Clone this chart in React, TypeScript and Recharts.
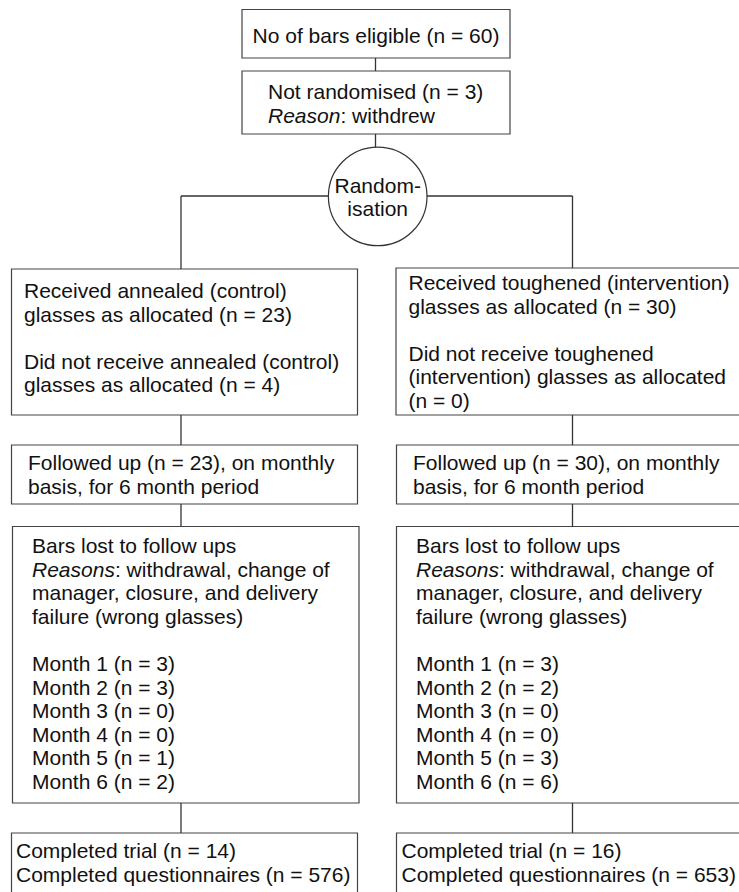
import { ScatterChart, XAxis, YAxis, ReferenceArea, ReferenceLine, ReferenceDot } from 'recharts';

// trial counts
const eligibleBars = 60;
const notRandomisedBars = 3;
const groups = ['annealed (control)', 'toughened (intervention)'];
const receivedAsAllocated = [23, 30];
const notReceivedAsAllocated = [4, 0];
const followedUp = [23, 30];
const monthLabels = ['Month 1', 'Month 2', 'Month 3', 'Month 4', 'Month 5', 'Month 6'];
const lostControl = [3, 3, 0, 0, 1, 2];
const lostIntervention = [3, 2, 0, 0, 3, 6];
const completedTrial = [14, 16];
const completedQuestionnaires = [576, 653];

const W = 739;
const H = 892;
const FONT = '"Liberation Sans", Arial, Helvetica, sans-serif';
const LINE_H = 23.6;
const BOX_STROKE = '#444';
const LINK_STROKE = '#333';

const lostLines = (counts: number[]) => [
  'Bars lost to follow ups',
  '*Reasons*: withdrawal, change of',
  'manager, closure, and delivery',
  'failure (wrong glasses)',
  '',
  ...monthLabels.map((m, i) => `${m} (n = ${counts[i]})`),
];

// box text, in reading order
const texts = {
  eligible: [`No of bars eligible (n = ${eligibleBars})`],
  notRand: [`Not randomised (n = ${notRandomisedBars})`, '*Reason*: withdrew'],
  allocL: [
    `Received ${groups[0]}`,
    `glasses as allocated (n = ${receivedAsAllocated[0]})`,
    '',
    `Did not receive ${groups[0]}`,
    `glasses as allocated (n = ${notReceivedAsAllocated[0]})`,
  ],
  allocR: [
    `Received ${groups[1]}`,
    `glasses as allocated (n = ${receivedAsAllocated[1]})`,
    '',
    'Did not receive toughened',
    '(intervention) glasses as allocated',
    `(n = ${notReceivedAsAllocated[1]})`,
  ],
  followL: [`Followed up (n = ${followedUp[0]}), on monthly`, 'basis, for 6 month period'],
  followR: [`Followed up (n = ${followedUp[1]}), on monthly`, 'basis, for 6 month period'],
  lostL: lostLines(lostControl),
  lostR: lostLines(lostIntervention),
  doneL: [`Completed trial (n = ${completedTrial[0]})`, `Completed questionnaires (n = ${completedQuestionnaires[0]})`],
  doneR: [`Completed trial (n = ${completedTrial[1]})`, `Completed questionnaires (n = ${completedQuestionnaires[1]})`],
};

// layout in axis units (x 0..739, y 0..892 top-down)
const boxes = [
  { id: 'eligible', x1: 242, x2: 510, y1: 9.5, y2: 58, padX: 0, padTop: 33, align: 'middle' },
  { id: 'notRand', x1: 242, x2: 510, y1: 71, y2: 134, padX: 26, padTop: 28, align: 'start' },
  { id: 'allocL', x1: 11.5, x2: 357.5, y1: 269, y2: 415, padX: 12.5, padTop: 29, align: 'start' },
  { id: 'allocR', x1: 396, x2: 745, y1: 268, y2: 415, padX: 12.5, padTop: 22, align: 'start' },
  { id: 'followL', x1: 11.5, x2: 357.5, y1: 445, y2: 504, padX: 16.5, padTop: 25, align: 'start' },
  { id: 'followR', x1: 396.5, x2: 745, y1: 445, y2: 504, padX: 16.5, padTop: 25, align: 'start' },
  { id: 'lostL', x1: 12.5, x2: 359, y1: 526.5, y2: 803, padX: 19.5, padTop: 26.5, align: 'start' },
  { id: 'lostR', x1: 396.5, x2: 745, y1: 526.5, y2: 803, padX: 19.5, padTop: 26.5, align: 'start' },
  { id: 'doneL', x1: 11.5, x2: 357.5, y1: 833, y2: 910, padX: 4.5, padTop: 25, align: 'start' },
  { id: 'doneR', x1: 396.5, x2: 745, y1: 833, y2: 910, padX: 5, padTop: 25, align: 'start' },
];

const circle = { x: 377.7, y: 196.4, r: 49.3 };

const links = [
  [375.5, 58, 375.5, 71],
  [375.5, 134, 375.5, 147],
  [181, 196, 328.4, 196],
  [427, 196, 572.5, 196],
  [181, 196, 181, 269],
  [572.5, 196, 572.5, 268],
  [181, 415, 181, 445],
  [572.5, 415, 572.5, 445],
  [181, 504, 181, 526.5],
  [572.5, 504, 572.5, 526.5],
  [181, 803, 181, 833],
  [572.5, 803, 572.5, 833],
];

function renderParts(line: string) {
  return line.split('*').map((part, j) =>
    j % 2 ? (
      <tspan key={j} fontStyle="italic">
        {part}
      </tspan>
    ) : (
      part
    )
  );
}

function boxText(lines: string[], padX: number, padTop: number, align: string) {
  return (props: any) => {
    const vb = props.viewBox;
    const tx = align === 'middle' ? vb.x + vb.width / 2 : vb.x + padX;
    return (
      <text x={tx} y={vb.y + padTop} fontFamily={FONT} fontSize={21} fill="#111" textAnchor={align}>
        {lines.map((line, i) => (
          <tspan key={i} x={tx} y={vb.y + padTop + i * LINE_H}>
            {renderParts(line)}
          </tspan>
        ))}
      </text>
    );
  };
}

const circleText = (props: any) => {
  const vb = props.viewBox;
  const cx = vb.x + vb.width / 2;
  const cy = vb.y + vb.height / 2;
  return (
    <text x={cx} y={cy} fontFamily={FONT} fontSize={21} fill="#111" textAnchor="middle">
      <tspan x={cx} y={cy - 3}>Random-</tspan>
      <tspan x={cx} y={cy + 20}>isation</tspan>
    </text>
  );
};

export default function App() {
  return (
    <div style={{ position: 'absolute', left: 0, top: 0, background: '#fff' }}>
      <ScatterChart width={W} height={H} margin={{ top: 0, right: 0, bottom: 0, left: 0 }}>
        <XAxis type="number" dataKey="x" domain={[0, W]} hide allowDataOverflow />
        <YAxis type="number" dataKey="y" domain={[0, H]} reversed hide allowDataOverflow />
        {links.map(([x1, y1, x2, y2], i) => (
          <ReferenceLine
            key={`l${i}`}
            segment={[{ x: x1, y: y1 }, { x: x2, y: y2 }]}
            stroke={LINK_STROKE}
            strokeWidth={1.3}
            ifOverflow="visible"
          />
        ))}
        {boxes.map((b) => (
          <ReferenceArea
            key={b.id}
            x1={b.x1}
            x2={b.x2}
            y1={b.y1}
            y2={b.y2}
            fill="#fff"
            fillOpacity={1}
            stroke={BOX_STROKE}
            strokeWidth={1.2}
            ifOverflow="visible"
            label={boxText((texts as any)[b.id], b.padX, b.padTop, b.align)}
          />
        ))}
        <ReferenceDot
          x={circle.x}
          y={circle.y}
          r={circle.r}
          fill="#fff"
          stroke={LINK_STROKE}
          strokeWidth={1.2}
          ifOverflow="visible"
          label={circleText}
        />
      </ScatterChart>
    </div>
  );
}
